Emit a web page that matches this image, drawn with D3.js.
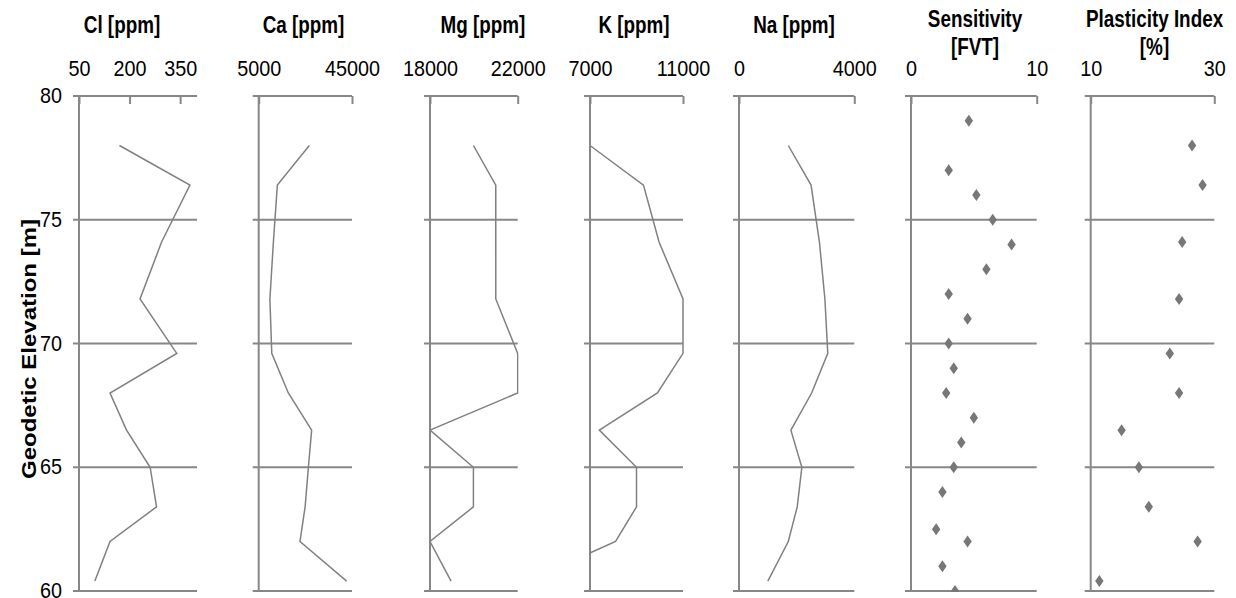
<!DOCTYPE html>
<title>Geodetic elevation profiles</title>
<meta charset="utf-8">
<style>
  body { margin: 0; background: #fff; }
  svg text { font-family: "Liberation Sans", Arial, sans-serif; fill: #000; }
  .title { font-size: 23px; font-weight: bold; }
  .ytitle { font-size: 24px; font-weight: bold; }
  .tick text { font-size: 22px; }
  .grid { stroke: #878787; stroke-width: 2px; }
  .line { fill: none; stroke: #808080; stroke-width: 1.5px; }
  .dot { fill: #777; }
</style>
<body>
<div id="chart"></div>
<script src="https://d3js.org/d3.v7.min.js"></script>
<script>

// sample elevations (m) shared by the chemistry profiles and plasticity index
var depths = [78.0, 76.4, 74.1, 71.8, 69.6, 68.0, 66.5, 65.0, 63.4, 62.0, 60.4];

var cl = [170, 379, 295, 231, 340, 142, 191, 261, 280, 142, 97];
var ca = [26700, 13000, 11300, 9800, 10600, 17700, 27700, 26300, 24900, 22700, 42700];
var mg = [19980, 21000, 21000, 21000, 22000, 22000, 18000, 19980, 19980, 18000, 18960];
var k  = [7000, 9300, 9970, 11000, 11000, 9900, 7400, 9000, 9000, 8100, 4300];
var na = [1710, 2500, 2790, 2980, 3080, 2520, 1800, 2180, 2020, 1710, 1000];

// sensitivity has its own sample elevations
var sensDepths  = [79, 77, 76, 75, 74, 73, 72, 71, 70, 69, 68, 67, 66, 65, 64, 62.5, 62, 61, 60];
var sensitivity = [4.6, 3.0, 5.2, 6.5, 8.0, 6.0, 3.0, 4.5, 3.0, 3.4, 2.8, 5.0, 4.0, 3.4, 2.5, 2.0, 4.5, 2.5, 3.5];

var plasticity = [26.4, 28.1, 24.8, 24.3, 22.8, 24.3, 15.0, 17.8, 19.4, 27.3, 11.4];

var elevTicks = [80, 75, 70, 65, 60];

var panels = [
  {title: ["Cl [ppm]"], domain: [50, 400], ticks: [50, 200, 350], ys: depths, xs: cl, kind: "line"},
  {title: ["Ca [ppm]"], domain: [5000, 45000], ticks: [5000, 45000], ys: depths, xs: ca, kind: "line"},
  {title: ["Mg [ppm]"], domain: [18000, 22000], ticks: [18000, 22000], ys: depths, xs: mg, kind: "line"},
  {title: ["K [ppm]"], domain: [7000, 11000], ticks: [7000, 11000], ys: depths, xs: k, kind: "line"},
  {title: ["Na [ppm]"], domain: [0, 4000], ticks: [0, 4000], ys: depths, xs: na, kind: "line"},
  {title: ["Sensitivity", "[FVT]"], domain: [0, 10], ticks: [0, 10], ys: sensDepths, xs: sensitivity, kind: "dot"},
  {title: ["Plasticity Index", "[%]"], domain: [10, 30], ticks: [10, 30], ys: depths, xs: plasticity, kind: "dot"}
];

// panel placement on the page
var layout = [
  {left: 79, width: 118, titleX: 122},
  {left: 258.7, width: 93.3, titleX: 303.5},
  {left: 430, width: 87.7, titleX: 483},
  {left: 590, width: 93, titleX: 634},
  {left: 739, width: 115.3, titleX: 794},
  {left: 911, width: 125.7, titleX: 975},
  {left: 1090.7, width: 123.6, titleX: 1154.5}
];

var svg = d3.select("#chart").append("svg")
    .attr("width", 1236)
    .attr("height", 598);

var y = d3.scaleLinear().domain([60, 80]).range([591, 96]);

panels.forEach(function(p, i) {
  var L = layout[i];
  var x = d3.scaleLinear().domain(p.domain).range([0, L.width]);
  var g = svg.append("g").attr("transform", "translate(" + L.left + ",0)");

  g.append("clipPath").attr("id", "clip" + i)
    .append("rect")
      .attr("x", -1)
      .attr("y", y(80) - 1)
      .attr("width", L.width + 2)
      .attr("height", y(60) - y(80) + 2);

  // horizontal lines at the elevation ticks
  g.selectAll(".hline")
    .data(elevTicks).enter().append("line")
      .attr("class", "grid")
      .attr("x1", -6).attr("x2", L.width)
      .attr("y1", function(d) { return y(d); })
      .attr("y2", function(d) { return y(d); });

  // vertical axis
  g.append("line").attr("class", "grid")
    .attr("x1", 0).attr("x2", 0)
    .attr("y1", y(80)).attr("y2", y(60) + 1);

  // top value axis
  var ax = g.append("g")
      .attr("transform", "translate(0," + y(80) + ")")
      .call(d3.axisTop(x).tickValues(p.ticks).tickSizeInner(-8).tickSizeOuter(0)
            .tickPadding(20).tickFormat(d3.format("d")));
  ax.select(".domain").remove();
  ax.selectAll(".tick line").attr("stroke", "#878787").attr("stroke-width", 2);
  ax.selectAll(".tick text").attr("transform", "scale(0.9,1)");

  // title
  var baselines = p.title.length > 1 ? [27, 55] : [33];
  p.title.forEach(function(t, j) {
    svg.append("text")
      .attr("class", "title")
      .attr("text-anchor", "middle")
      .attr("transform", "translate(" + L.titleX + "," + baselines[j] + ") scale(0.82,1)")
      .text(t);
  });

  var pts = p.xs.map(function(v, j) { return {v: v, e: p.ys[j]}; });
  var plot = g.append("g").attr("clip-path", "url(#clip" + i + ")");

  if (p.kind === "line") {
    plot.append("path")
      .datum(pts)
      .attr("class", "line")
      .attr("d", d3.line()
        .x(function(d) { return x(d.v); })
        .y(function(d) { return y(d.e); }));
  } else {
    plot.selectAll(".dot")
      .data(pts).enter().append("path")
        .attr("class", "dot")
        .attr("d", "M0,-6L4.2,0L0,6L-4.2,0Z")
        .attr("transform", function(d) { return "translate(" + x(d.v) + "," + y(d.e) + ")"; });
  }

  // elevation labels only on the first panel
  if (i === 0) {
    var yax = g.append("g")
        .call(d3.axisLeft(y).tickValues(elevTicks).tickSize(0).tickPadding(19));
    yax.select(".domain").remove();
    yax.selectAll(".tick text").attr("dy", "0.3em").attr("transform", "scale(0.9,1)");
  }
});

svg.append("text")
  .attr("class", "ytitle")
  .attr("text-anchor", "middle")
  .attr("transform", "translate(36,349) scale(0.82,1) rotate(-90)")
  .text("Geodetic Elevation [m]");

</script>
</body>
